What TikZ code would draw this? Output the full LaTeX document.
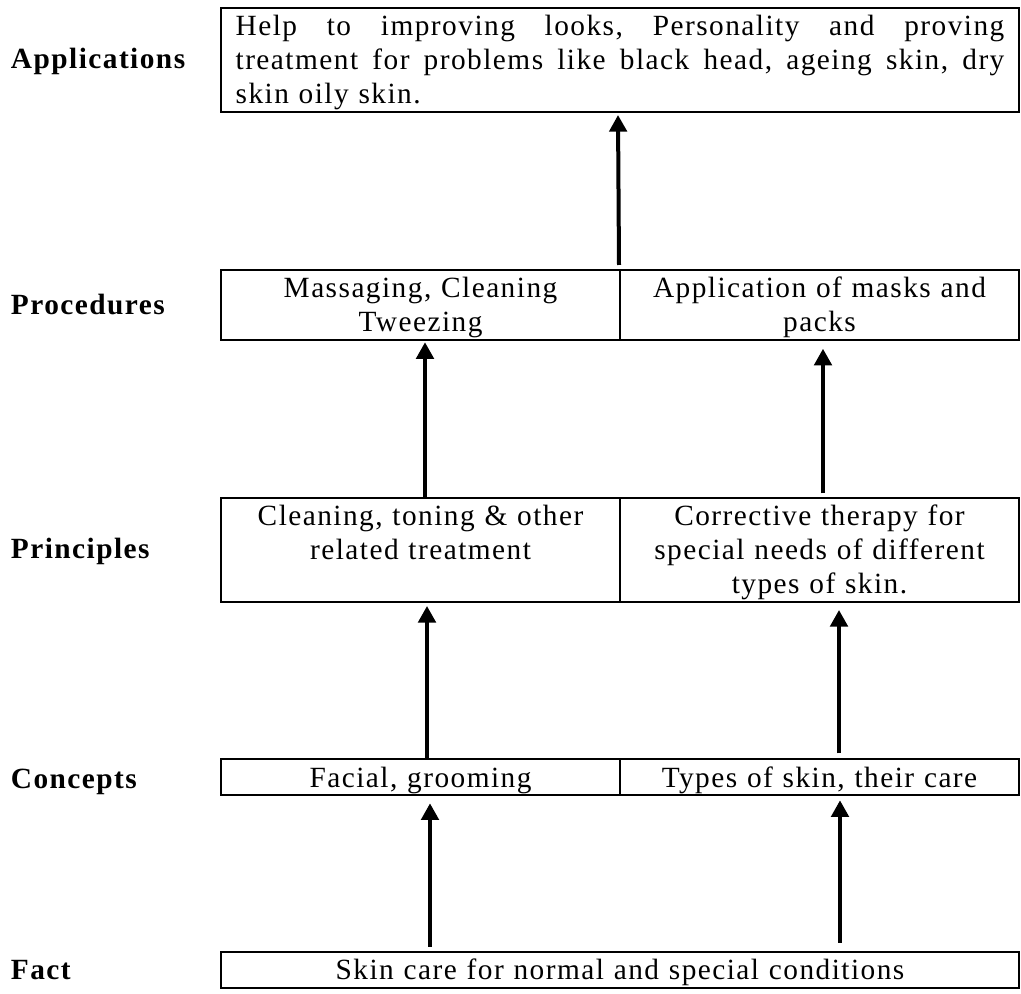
\documentclass[tikz,border=0pt]{standalone}
\usepackage{fontspec}
\setmainfont{Liberation Serif}[LetterSpace=5]
\usetikzlibrary{arrows.meta,calc}
\begin{document}
\begin{tikzpicture}[x=0.75pt,y=-0.75pt,
  txt/.style={font=\fontsize{22}{25.3}\selectfont},
  cell/.style={txt,draw,line width=1.5pt,anchor=north west,inner xsep=0pt,inner ysep=0pt,align=center,text width=299.25pt},
  lab/.style={anchor=base west,inner sep=0pt,font=\fontsize{22}{25.3}\selectfont\bfseries},
  arr/.style={line width=3pt,-{Triangle[length=12.5pt,width=13pt]}}]
\useasboundingbox[fill=white] (0,0) rectangle (1021,994);

% row labels
\node[lab] (lapp)  at (10.7,69)  {Applications};
\node[lab] (lproc) at (10.7,315) {Procedures};
\node[lab] (lprin) at (10.7,559) {Principles};
\node[lab] (lconc) at (10.7,788) {Concepts};
\node[lab] (lfact) at (10.7,979) {Fact};

% Applications
\node[txt,draw,line width=1.5pt,anchor=north west,inner xsep=11pt,inner ysep=0pt,
      align=left,text width=576.5pt,text height=21pt,text depth=57pt] (app) at (220,7)
 {\hbox to \linewidth{Help\hfill to\hfill improving\hfill looks,\hfill Personality\hfill and\hfill proving}
  \hbox to \linewidth{treatment\hfill for\hfill problems\hfill like\hfill black\hfill head,\hfill ageing\hfill skin,\hfill dry}
  skin oily skin.};

% Procedures
\node[cell,text height=21pt,text depth=31.3pt] (procL) at (220,269) {Massaging, Cleaning\\Tweezing};
\node[cell,text height=21pt,text depth=31.3pt] (procR) at (619,269) {Application of masks and\\packs};

% Principles
\node[cell,text height=21.2pt,text depth=57pt] (princL) at (220,496.7) {Cleaning, toning \& other\\related treatment};
\node[cell,text height=21.2pt,text depth=57pt] (princR) at (619,496.7) {Corrective therapy for\\special needs of different\\types of skin.};

% Concepts
\node[cell,text height=20.8pt,text depth=6.2pt] (concL) at (220,758.3) {Facial, grooming};
\node[cell,text height=20.8pt,text depth=6.2pt] (concR) at (619,758.3) {Types of skin, their care};

% Fact
\node[cell,text width=598.5pt,text height=20.5pt,text depth=6.5pt] (fact) at (220,950.7) {Skin care for normal and special conditions};

% arrows
\draw[arr] ($(procL.north east)+(-2,-4)$) -- ($(app.south)+(-2,2)$);
\draw[arr] ($(princL.north)+(4.5,0)$) -- ($(procL.south)+(4.5,1.5)$);
\draw[arr] ($(princR.north)+(3.5,-3.4)$) -- ($(procR.south)+(3.5,8)$);
\draw[arr] ($(concL.north)+(6.5,0)$) -- ($(princL.south)+(6.5,3)$);
\draw[arr] ($(concR.north)+(19.5,-5)$) -- ($(princR.south)+(19.5,7)$);
\draw[arr] ($(fact.north)+(-190,-4)$) -- ($(concL.south)+(9.5,7)$);
\draw[arr] ($(fact.north)+(220,-8)$) -- ($(concR.south)+(20.5,4)$);
\end{tikzpicture}
\end{document}
